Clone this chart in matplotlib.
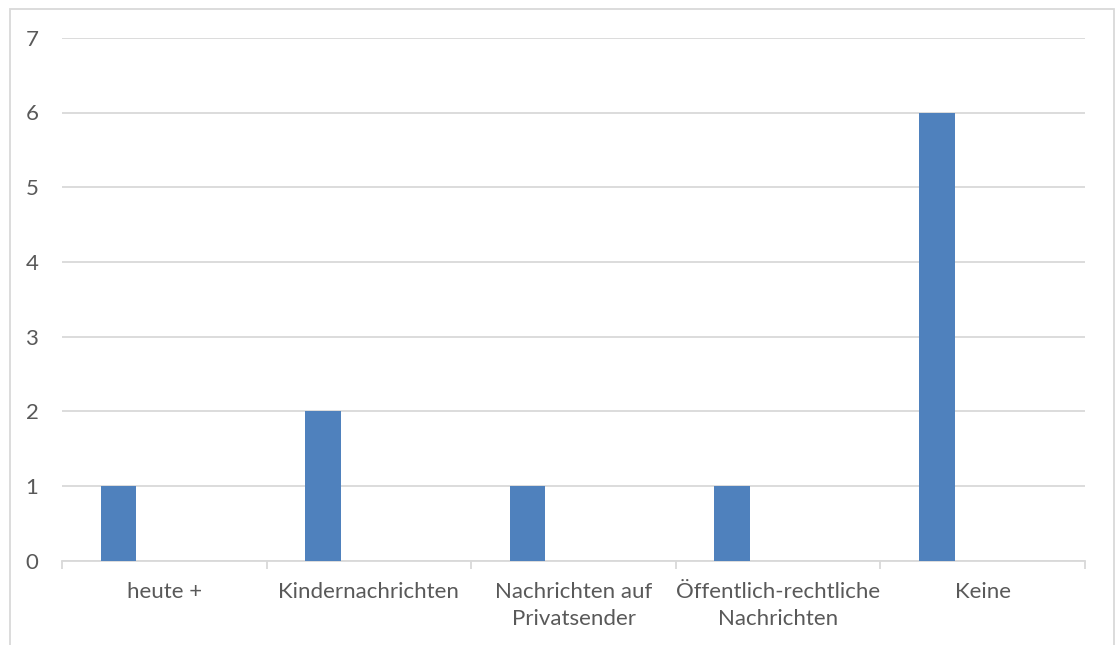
import matplotlib
matplotlib.use("Agg")
import matplotlib.pyplot as plt
from matplotlib.patches import Rectangle
import numpy as np

categories = ["heute +", "Kindernachrichten", "Nachrichten auf\nPrivatsender",
              "Öffentlich-rechtliche\nNachrichten", "Keine"]
values = [1, 2, 1, 1, 6]
y_ticks = [0, 1, 2, 3, 4, 5, 6, 7]

plt.rcParams['font.family'] = ['Lato', 'DejaVu Sans']

bar_color = "#4F81BD"
grid_color = "#D9D9D9"
text_color = "#595959"

fig = plt.figure(figsize=(11.2, 6.45), dpi=100)
fig.patch.set_facecolor("white")

# outer chart frame
frame = Rectangle((9.5 / 1120, -0.05), (1113.5 - 9.5) / 1120, (645 - 8.5) / 645 + 0.05,
                  transform=fig.transFigure, fill=False, edgecolor=grid_color,
                  linewidth=1.3, clip_on=False)
fig.patches.append(frame)

ax = fig.add_axes([62 / 1120, 84.3 / 645, (1085 - 62) / 1120, (607.2 - 84.3) / 645])

x = np.arange(len(categories))
bar_width = 0.174
ax.bar(x - 0.311, values, width=bar_width, align="edge", color=bar_color, zorder=3)

ax.set_xlim(-0.5, len(categories) - 0.5)
ax.set_ylim(0, 7)
ax.set_yticks(y_ticks)
ax.set_yticklabels([str(v) for v in y_ticks])
ax.yaxis.grid(True, color=grid_color, linewidth=1.3, zorder=0)
ax.tick_params(axis="y", length=0, pad=17, labelsize=16, labelcolor=text_color)

ax.set_xticks(x)
ax.set_xticklabels(categories, fontsize=16, color=text_color, linespacing=1.4)
ax.tick_params(axis="x", which="major", length=0, pad=15.5)
ax.set_xticks(np.arange(len(categories) + 1) - 0.5, minor=True)
ax.tick_params(axis="x", which="minor", length=6, color=grid_color, width=1.3)

for side in ["top", "right", "left"]:
    ax.spines[side].set_visible(False)
ax.spines["bottom"].set_color(grid_color)
ax.spines["bottom"].set_linewidth(1.3)

fig.savefig("out.png", dpi=100, facecolor="white")
